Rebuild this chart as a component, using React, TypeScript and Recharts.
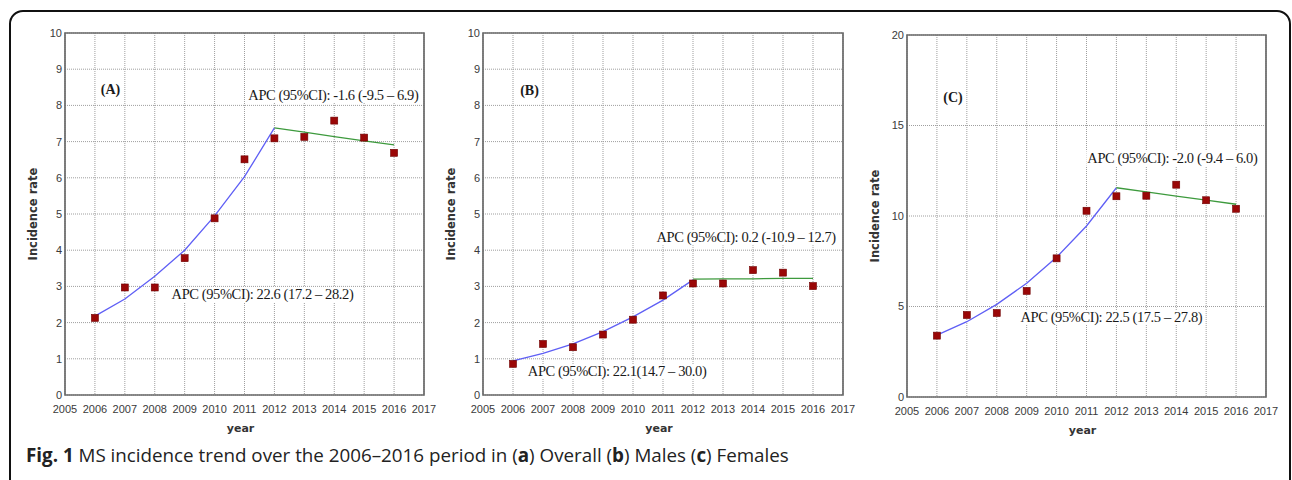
import React, { useLayoutEffect, useRef, useState } from "react";
import {
  ComposedChart,
  Line,
  Scatter,
  XAxis,
  YAxis,
  CartesianGrid,
  ReferenceArea,
  ReferenceDot,
} from "recharts";

// years on the x axis
const years = [2006, 2007, 2008, 2009, 2010, 2011, 2012, 2013, 2014, 2015, 2016];
const yearTicks = [2005, 2006, 2007, 2008, 2009, 2010, 2011, 2012, 2013, 2014, 2015, 2016, 2017];

// (A) overall
const overallObserved = [2.13, 2.97, 2.97, 3.78, 4.88, 6.51, 7.09, 7.13, 7.58, 7.11, 6.69];
const overallFitRise = [2.18, 2.65, 3.28, 4.0, 4.95, 6.03, 7.38, null, null, null, null];
const overallFitFall = [null, null, null, null, null, null, 7.38, 7.26, 7.14, 7.02, 6.91];

// (B) males
const malesObserved = [0.86, 1.41, 1.32, 1.67, 2.08, 2.75, 3.08, 3.08, 3.45, 3.38, 3.01];
const malesFitRise = [0.94, 1.15, 1.41, 1.75, 2.16, 2.62, 3.18, null, null, null, null];
const malesFitFall = [null, null, null, null, null, null, 3.2, 3.21, 3.21, 3.22, 3.22];

// (C) females
const femalesObserved = [3.39, 4.53, 4.64, 5.86, 7.66, 10.29, 11.09, 11.12, 11.73, 10.87, 10.4];
const femalesFitRise = [3.42, 4.16, 5.12, 6.28, 7.72, 9.45, 11.56, null, null, null, null];
const femalesFitFall = [null, null, null, null, null, null, 11.56, 11.33, 11.1, 10.88, 10.65];

const ticksTen = [0, 1, 2, 3, 4, 5, 6, 7, 8, 9, 10];
const ticksTwenty = [0, 5, 10, 15, 20];

const buildRows = (obs: number[], rise: (number | null)[], fall: (number | null)[]) =>
  years.map((year, i) => ({ year, obs: obs[i], rise: rise[i], fall: fall[i] }));

const SERIF = "'Liberation Serif', 'Times New Roman', serif";
const SANS = "'Liberation Sans', Arial, sans-serif";
const NARROW = "'Liberation Sans Narrow', 'Arial Narrow', 'Liberation Sans', sans-serif";
const TITLE = "'DejaVu Sans', Verdana, sans-serif";

function Note({ cx, cy, text, bold }: any) {
  const ref = useRef<SVGTextElement>(null);
  const [bb, setBb] = useState<any>(null);
  useLayoutEffect(() => {
    if (ref.current) setBb(ref.current.getBBox());
  }, [cx, cy, text]);
  return (
    <g>
      {!bold && bb && (
        <rect x={bb.x - 1} y={bb.y + 1} width={bb.width + 2} height={bb.height - 2} fill="#fff" />
      )}
      <text
        ref={ref}
        x={cx}
        y={cy}
        textAnchor="middle"
        dominantBaseline="central"
        fontFamily={SERIF}
        fontSize={bold ? 14 : 14.5}
        fontWeight={bold ? 700 : 400}
        letterSpacing={bold ? 0 : -0.4}
        fill="#1a1a1a"
      >
        {text}
      </text>
    </g>
  );
}

function YTitle({ viewBox }: any) {
  const x = viewBox.x + viewBox.width - 32;
  const y = viewBox.y + viewBox.height / 2;
  return (
    <text
      x={x}
      y={y}
      transform={`rotate(-90 ${x} ${y})`}
      textAnchor="middle"
      dominantBaseline="central"
      fontFamily={TITLE}
      fontWeight={700}
      fontSize={11.5}
      fill="#333"
    >
      Incidence rate
    </text>
  );
}

function XTitle({ viewBox }: any) {
  return (
    <text
      x={viewBox.x + viewBox.width / 2 - 4}
      y={viewBox.y + 37}
      textAnchor="middle"
      fontFamily={TITLE}
      fontWeight={700}
      fontSize={11}
      fill="#333"
    >
      year
    </text>
  );
}

const Square = (props: any) => {
  const { cx, cy } = props;
  if (cx == null || cy == null) return null;
  return <rect x={cx - 3.5} y={cy - 3.5} width={7} height={7} fill="#9a0707" stroke="#6e0000" strokeWidth={0.6} />;
};

interface NoteSpec {
  x: number;
  y: number;
  text: string;
  bold?: boolean;
}

interface PanelProps {
  left: number;
  width: number;
  height: number;
  top: number;
  right: number;
  yWidth: number;
  yMax: number;
  yTicks: number[];
  rows: any[];
  notes: NoteSpec[];
}

function Panel({ left, width, height, top, right, yWidth, yMax, yTicks, rows, notes }: PanelProps) {
  return (
    <div style={{ position: "absolute", left, top: 0 }}>
      <ComposedChart
        width={width}
        height={height}
        data={rows}
        margin={{ top, right, bottom: 0, left: 0 }}
      >
        <CartesianGrid stroke="#9e9e9e" strokeDasharray="1 1" strokeWidth={1} />
        <XAxis
          type="number"
          dataKey="year"
          domain={[2005, 2017]}
          ticks={yearTicks}
          interval={0}
          axisLine={false}
          tickLine={false}
          tickSize={0}
          tickMargin={10}
          height={45}
          tick={{ fontSize: 11, fill: "#3a3a3a", fontFamily: NARROW }}
          label={<XTitle />}
        />
        <YAxis
          type="number"
          domain={[0, yMax]}
          ticks={yTicks}
          interval={0}
          axisLine={false}
          tickLine={false}
          tickSize={0}
          tickMargin={3}
          width={yWidth}
          tick={{ fontSize: 11, fill: "#3a3a3a", fontFamily: SANS }}
          label={<YTitle />}
        />
        <ReferenceArea
          x1={2005}
          x2={2017}
          y1={0}
          y2={yMax}
          fill="none"
          fillOpacity={0}
          stroke="#6a6a6a"
          strokeWidth={1.7}
        />
        <Line
          type="linear"
          dataKey="rise"
          stroke="#5f5ff5"
          strokeWidth={1.3}
          dot={false}
          isAnimationActive={false}
        />
        <Line
          type="linear"
          dataKey="fall"
          stroke="#3d9a3d"
          strokeWidth={1.3}
          dot={false}
          isAnimationActive={false}
        />
        <Scatter dataKey="obs" shape={<Square />} isAnimationActive={false} />
        {notes.map((n) => (
          <ReferenceDot
            key={n.text}
            x={n.x}
            y={n.y}
            r={0}
            shape={<Note text={n.text} bold={n.bold} />}
          />
        ))}
      </ComposedChart>
    </div>
  );
}

const overallNotes: NoteSpec[] = [
  { x: 2006.52, y: 8.43, text: "(A)", bold: true },
  { x: 2013.97, y: 8.29, text: "APC (95%CI): -1.6 (-9.5 – 6.9)" },
  { x: 2011.6, y: 2.79, text: "APC (95%CI): 22.6 (17.2 – 28.2)" },
];
const malesNotes: NoteSpec[] = [
  { x: 2006.55, y: 8.4, text: "(B)", bold: true },
  { x: 2013.77, y: 4.36, text: "APC (95%CI): 0.2 (-10.9 – 12.7)" },
  { x: 2009.47, y: 0.66, text: "APC (95%CI): 22.1(14.7 – 30.0)" },
];
const femalesNotes: NoteSpec[] = [
  { x: 2006.54, y: 16.57, text: "(C)", bold: true },
  { x: 2013.87, y: 13.2, text: "APC (95%CI): -2.0 (-9.4 – 6.0)" },
  { x: 2011.83, y: 4.42, text: "APC (95%CI): 22.5 (17.5 – 27.8)" },
];

export default function App() {
  return (
    <div
      style={{
        position: "absolute",
        left: 0,
        top: 0,
        width: 1292,
        height: 480,
        overflow: "hidden",
        background: "#fff",
      }}
    >
      <div
        style={{
          position: "absolute",
          left: 9,
          top: 10,
          right: 1,
          height: 520,
          border: "2px solid #111",
          borderRadius: 14,
        }}
      />
      <Panel
        left={0}
        width={440}
        height={440}
        top={33}
        right={16}
        yWidth={65}
        yMax={10}
        yTicks={ticksTen}
        rows={buildRows(overallObserved, overallFitRise, overallFitFall)}
        notes={overallNotes}
      />
      <Panel
        left={440}
        width={420}
        height={440}
        top={33}
        right={17}
        yWidth={43}
        yMax={10}
        yTicks={ticksTen}
        rows={buildRows(malesObserved, malesFitRise, malesFitFall)}
        notes={malesNotes}
      />
      <Panel
        left={860}
        width={432}
        height={442}
        top={35}
        right={26}
        yWidth={47}
        yMax={20}
        yTicks={ticksTwenty}
        rows={buildRows(femalesObserved, femalesFitRise, femalesFitFall)}
        notes={femalesNotes}
      />
      <div
        style={{
          position: "absolute",
          left: 26,
          top: 443,
          fontFamily: "'Open Sans', 'Noto Sans', sans-serif",
          fontSize: 18.8,
          color: "#222",
          whiteSpace: "nowrap",
          lineHeight: "24px",
        }}
      >
        <b>Fig. 1</b> MS incidence trend over the 2006–2016 period in (<b>a</b>) Overall (<b>b</b>) Males (<b>c</b>) Females
      </div>
    </div>
  );
}
